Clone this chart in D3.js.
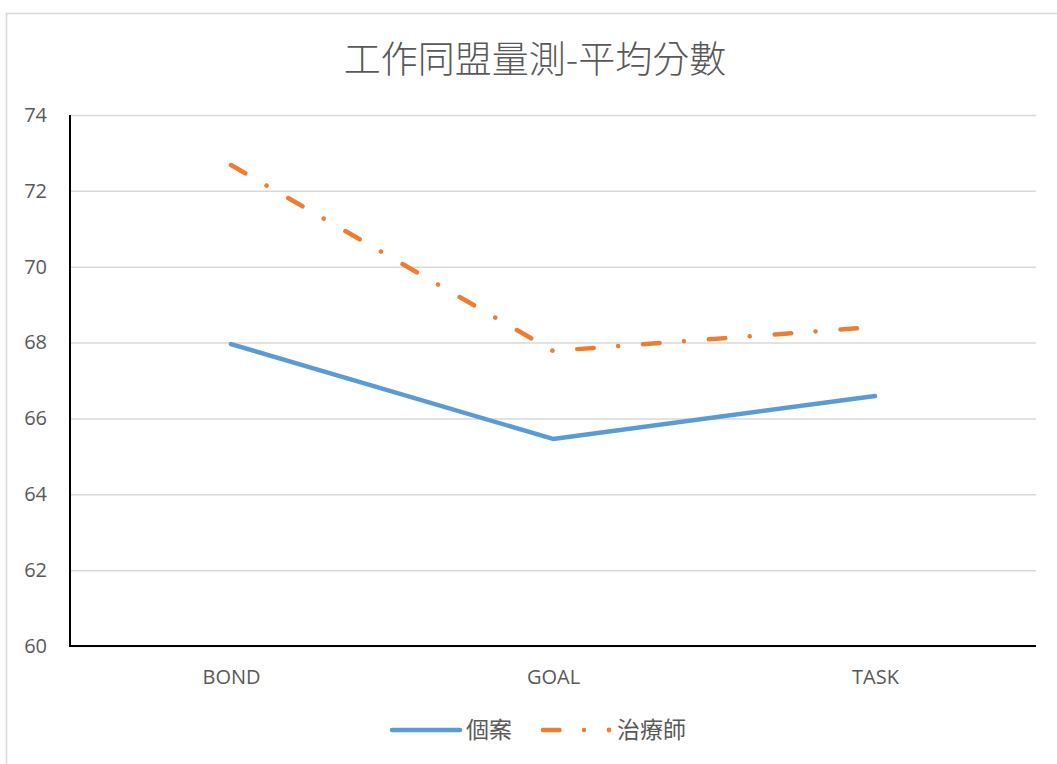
<!DOCTYPE html>
<html>
<head>
<meta charset="utf-8">
<script src="https://cdn.jsdelivr.net/npm/d3@7/dist/d3.min.js"></script>
<style>
  html, body { margin: 0; padding: 0; background: #fff; }
  svg { display: block; }
</style>
</head>
<body>
<script>
// Working alliance scores by dimension
const categories = ["BOND", "GOAL", "TASK"];
const clientScores = [67.96, 65.46, 66.59];     // 個案
const therapistScores = [72.68, 67.78, 68.41];  // 治療師
const yTicks = [60, 62, 64, 66, 68, 70, 72, 74];
const seriesNames = ["個案", "治療師"];
const titleText = "工作同盟量測-平均分數";

const W = 1057, H = 764;
const plot = { left: 70, right: 1036, top: 115, bottom: 646 };
const blue = "#5B9BD5", orange = "#ED7D31";
const latin = "'Open Sans', 'Noto Sans', sans-serif";
const cjk = "'Noto Sans CJK TC', 'Noto Sans CJK SC', sans-serif";
const dashDot = "16.5,24.5,0.01,25";

const svg = d3.select("body").append("svg")
  .attr("width", W).attr("height", H);

// chart frame (top and left edges are visible)
svg.append("path")
  .attr("d", `M6.5,${H} V13.5 H${W}`)
  .attr("fill", "none").attr("stroke", "#D9D9D9").attr("stroke-width", 1.5);

const x = d3.scalePoint().domain(categories)
  .range([plot.left, plot.right]).padding(0.5);
const y = d3.scaleLinear().domain([60, 74])
  .range([plot.bottom, plot.top]);

// title
svg.append("text")
  .attr("x", 535).attr("y", 73)
  .attr("text-anchor", "middle")
  .attr("font-family", cjk).attr("font-weight", 300)
  .attr("font-size", 37).attr("fill", "#595959")
  .text(titleText);

// gridlines and value labels
const yAxis = d3.axisLeft(y).tickValues(yTicks)
  .tickSize(-(plot.right - plot.left)).tickPadding(23);
const gy = svg.append("g")
  .attr("transform", `translate(${plot.left},0)`)
  .call(yAxis);
gy.select(".domain").remove();
gy.selectAll(".tick line").attr("stroke", "#D9D9D9").attr("stroke-width", 1.5);
gy.selectAll(".tick text")
  .attr("font-family", latin).attr("font-size", 20).attr("fill", "#595959");

// category axis labels
const xAxis = d3.axisBottom(x).tickSize(0).tickPadding(24);
const gx = svg.append("g")
  .attr("transform", `translate(0,${plot.bottom})`)
  .call(xAxis);
gx.select(".domain").remove();
gx.selectAll(".tick text")
  .attr("font-family", latin).attr("font-size", 20).attr("fill", "#595959");

// axis lines
svg.append("path")
  .attr("d", `M${plot.left},${plot.top} V${plot.bottom} H${plot.right}`)
  .attr("fill", "none").attr("stroke", "#000").attr("stroke-width", 2);

const line = d3.line()
  .x((d, i) => x(categories[i]))
  .y(d => y(d));

svg.append("path").datum(clientScores)
  .attr("d", line).attr("fill", "none")
  .attr("stroke", blue).attr("stroke-width", 4.5)
  .attr("stroke-linecap", "round").attr("stroke-linejoin", "round");

svg.append("path").datum(therapistScores)
  .attr("d", line).attr("fill", "none")
  .attr("stroke", orange).attr("stroke-width", 4.5)
  .attr("stroke-linecap", "round").attr("stroke-linejoin", "round")
  .attr("stroke-dasharray", dashDot);

// legend
const legend = svg.append("g");
legend.append("line")
  .attr("x1", 392).attr("x2", 460).attr("y1", 730).attr("y2", 730)
  .attr("stroke", blue).attr("stroke-width", 4.5).attr("stroke-linecap", "round");
legend.append("text")
  .attr("x", 466).attr("y", 738)
  .attr("font-family", cjk).attr("font-size", 23).attr("fill", "#595959")
  .text(seriesNames[0]);
legend.append("line")
  .attr("x1", 543).attr("x2", 609).attr("y1", 730).attr("y2", 730)
  .attr("stroke", orange).attr("stroke-width", 4.5).attr("stroke-linecap", "round")
  .attr("stroke-dasharray", dashDot);
legend.append("circle")
  .attr("cx", 609).attr("cy", 730).attr("r", 2.4).attr("fill", orange);
legend.append("text")
  .attr("x", 617).attr("y", 738)
  .attr("font-family", cjk).attr("font-size", 23).attr("fill", "#595959")
  .text(seriesNames[1]);
</script>
</body>
</html>
